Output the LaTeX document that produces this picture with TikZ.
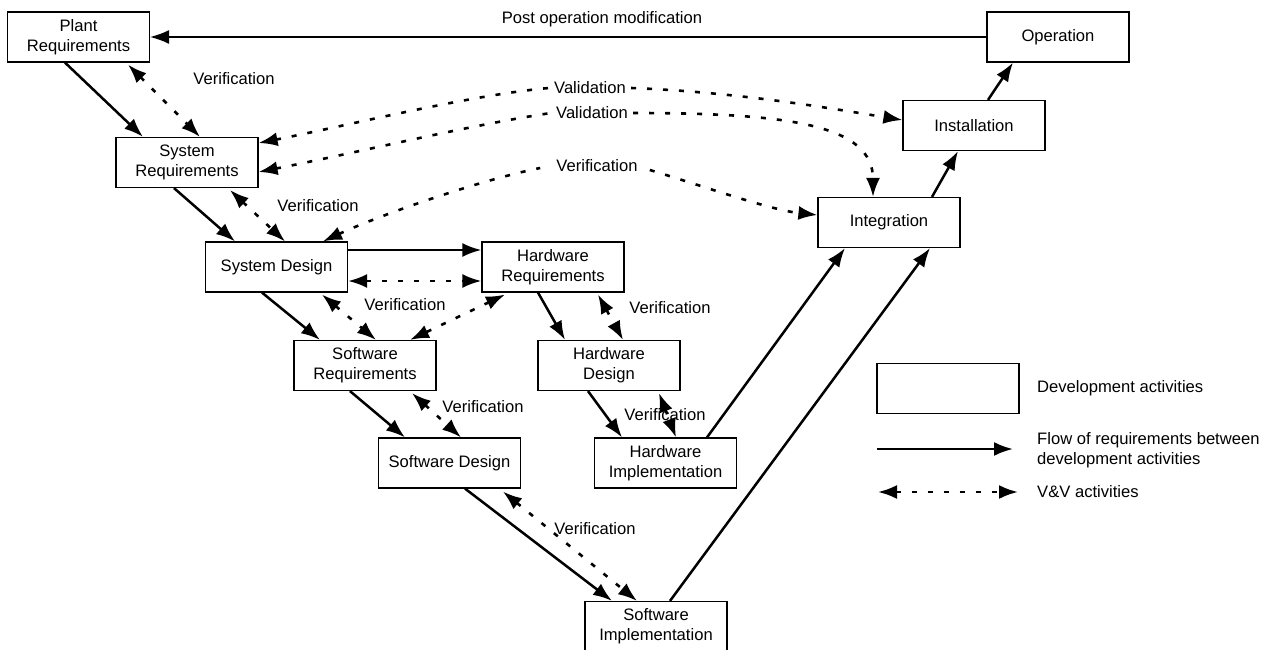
\documentclass[tikz,border=0pt]{standalone}
\usepackage{fontspec}
\setmainfont{Liberation Sans}
\usetikzlibrary{arrows.meta}
\begin{document}
\begin{tikzpicture}[x=1pt,y=-1pt,
  box/.style={draw, line width=1.2pt, minimum width=142pt, minimum height=50pt, align=center, inner sep=0pt, font=\fontsize{16.6}{20}\selectfont},
  lab/.style={font=\fontsize{16.6}{20}\selectfont, inner sep=2pt},
  tipL/.tip={Latex[length=19pt,width=14pt]},
  flow/.style={line width=2.5pt, -tipL},
  thinflow/.style={line width=1.5pt, -tipL},
  dotline/.style={line width=2.6pt, dash pattern=on 5pt off 11pt},
  vvd/.style={dotline, tipL-tipL},
  vvs/.style={dotline, tipL-},
  vve/.style={dotline, -tipL},
]
\fill[white] (0,0) rectangle (1269,650);
\useasboundingbox (0,0) rectangle (1269,650);

% development activity boxes
\node[box] (plant)  at (78.5,37)   {Plant\\Requirements};
\node[box] (sysreq) at (187,162.5) {System\\Requirements};
\node[box] (sysdes) at (276.5,267) {System Design};
\node[box] (hwreq)  at (553,267)   {Hardware\\Requirements};
\node[box] (swreq)  at (365,365.5) {Software\\Requirements};
\node[box] (hwdes)  at (609,365.5) {Hardware\\Design};
\node[box] (swdes)  at (449.5,463) {Software Design};
\node[box] (hwimp)  at (665.5,463) {Hardware\\Implementation};
\node[box] (swimp)  at (656,626.5) {Software\\Implementation};
\node[box] (integ)  at (889,222.5) {Integration};
\node[box] (inst)   at (974,125.5) {Installation};
\node[box] (oper)   at (1058,37)   {Operation};

% labels
\node[lab] (postlab) at (602,19)  {Post operation modification};
\node[lab] (ver1)    at (234,79)  {Verification};
\node[lab] (val1)    at (590,88)  {Validation};
\node[lab] (val2)    at (592,113) {Validation};
\node[lab] (ver3)    at (597,166) {Verification};
\node[lab] (ver2)    at (318,206) {Verification};
\node[lab] (ver4)    at (405,305) {Verification};
\node[lab] (ver5)    at (670,308) {Verification};
\node[lab] (ver6)    at (483,407) {Verification};
\node[lab] (ver7)    at (665,415) {Verification};
\node[lab] (ver8)    at (595,529) {Verification};

% post operation modification
\draw[thinflow] (oper.west) -- (plant.east);

% flow of requirements
\draw[flow] ([xshift=-13.5pt]plant.south) -- ([xshift=-44pt]sysreq.north);
\draw[flow] ([xshift=-13pt]sysreq.south) -- ([xshift=-41.5pt]sysdes.north);
\draw[flow] ([yshift=17pt]sysdes.east) -- ([yshift=17pt]hwreq.west);
\draw[flow] ([xshift=-14.5pt]sysdes.south) -- ([xshift=-45pt]swreq.north);
\draw[flow] ([xshift=-15pt]hwreq.south) -- ([xshift=-44pt]hwdes.north);
\draw[flow] ([xshift=-21pt]hwdes.south) -- ([xshift=-43.5pt]hwimp.north);
\draw[flow] ([xshift=-15pt]swreq.south) -- ([xshift=-44.5pt]swdes.north);
\draw[flow] ([xshift=15.5pt]swdes.south) -- ([xshift=-44pt]swimp.north);
\draw[flow] ([xshift=41.5pt]hwimp.north) -- ([xshift=-44pt]integ.south);
\draw[flow] ([xshift=14pt]swimp.north) -- ([xshift=41pt]integ.south);
\draw[flow] ([xshift=43pt]integ.north) -- ([xshift=-16pt]inst.south);
\draw[flow] ([xshift=14pt]inst.north) -- ([xshift=-45pt]oper.south);

% V&V activities
\draw[vvd] ([xshift=49.5pt,yshift=-2pt]plant.south) -- ([xshift=13pt]sysreq.north);
\draw[vvd] ([xshift=43pt,yshift=-2pt]sysreq.south) -- ([xshift=8.5pt]sysdes.north);
\draw[vvd] ([yshift=-14pt]sysdes.east) -- ([yshift=-14pt]hwreq.west);
\draw[vvd] ([xshift=45.5pt,yshift=-2pt]sysdes.south) -- ([xshift=11pt]swreq.north);
\draw[vvd] ([xshift=-48pt,yshift=-2pt]hwreq.south) -- ([xshift=45pt]swreq.north);
\draw[vvd] ([xshift=45pt,yshift=-2pt]hwreq.south) -- ([xshift=14pt]hwdes.north);
\draw[vvd] ([xshift=50pt,yshift=-2pt]hwdes.south) -- ([xshift=10.5pt]hwimp.north);
\draw[vvd] ([xshift=47pt,yshift=-2pt]swreq.south) -- ([xshift=11.5pt]swdes.north);
\draw[vvd] ([xshift=53.5pt,yshift=-3pt]swdes.south) -- ([xshift=-19pt]swimp.north);

% validation / long verification curves
\draw[vvs] ([yshift=19.5pt]sysreq.east) .. controls (350,125) and (470,95) .. ([xshift=-3pt]val1.west);
\draw[vve] ([xshift=3pt]val1.east) .. controls (740,92) and (840,110) .. ([yshift=5.5pt]inst.west);
\draw[vvs] ([yshift=-9.5pt]sysreq.east) .. controls (360,152) and (470,125) .. ([xshift=-3pt]val2.west);
\draw[vve] ([xshift=3pt]val2.east) .. controls (790,113) and (873,125) .. ([xshift=-16pt]integ.north);
\draw[vvs] ([xshift=46.5pt]sysdes.north) .. controls (380,215) and (480,180) .. ([xshift=-14pt,yshift=-2pt]ver3.west);
\draw[vve] ([xshift=10pt,yshift=-4pt]ver3.east) .. controls (700,185) and (770,210) .. ([yshift=7.5pt]integ.west);

% legend
\node[box] (leg) at (948,388.5) {};
\node[lab, anchor=west] (legt1) at (1035,388) {Development activities};
\coordinate (fa) at (877,449);
\coordinate (fb) at (1013,449);
\draw[flow] (fa) -- (fb);
\node[lab, anchor=west, align=left] (legt2) at (1035,450) {Flow of requirements between\\development activities};
\coordinate (va) at (878,492);
\coordinate (vb) at (1018,492);
\draw[vvd] (va) -- (vb);
\node[lab, anchor=west] (legt3) at (1035,492) {V\&V activities};
\end{tikzpicture}
\end{document}
